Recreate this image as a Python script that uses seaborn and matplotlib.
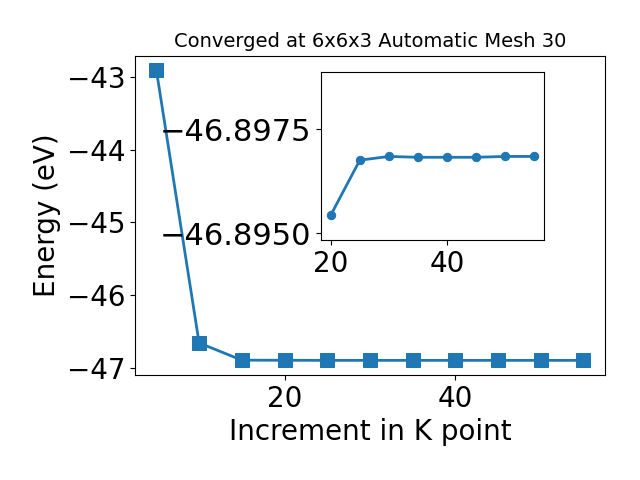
"""
K-point convergence plot: total energy vs. k-point increment,
with an inset zoomed on the converged region.
"""

import matplotlib

matplotlib.use("Agg")

import matplotlib.pyplot as plt
import seaborn as sns


# ---------------------------------------------------------------------------
# Data
# ---------------------------------------------------------------------------

kpoints = [5, 10, 15, 20, 25, 30, 35, 40, 45, 50, 55]
energy = [
    -42.909, -46.657, -46.8940, -46.89544, -46.89676, -46.89685,
    -46.89683, -46.89683, -46.89683, -46.89685, -46.89685,
]

inset_kpoints = kpoints[3:]
inset_energy = energy[3:]

TITLE = "Converged at 6x6x3 Automatic Mesh 30"
COLOR = "#1f77b4"


# ---------------------------------------------------------------------------
# Plot
# ---------------------------------------------------------------------------

fig = plt.figure(figsize=(6.4, 4.8), dpi=100)
ax = fig.add_axes([0.211, 0.219, 0.734, 0.665])

sns.lineplot(
    x=kpoints,
    y=energy,
    marker="s",
    markersize=10,
    markeredgecolor=COLOR,
    linewidth=2,
    color=COLOR,
    ax=ax,
)

ax.set_title(TITLE, fontsize=14)
ax.set_xlabel("Increment in K point", fontsize=20)
ax.set_ylabel("Energy (eV)", fontsize=20)
ax.tick_params(labelsize=20)
ax.set_xticks([20, 40])
ax.set_yticks([-43, -44, -45, -46, -47])

# inset zoomed on the converged values
axin = fig.add_axes([0.501, 0.5, 0.349, 0.349])

sns.lineplot(
    x=inset_kpoints,
    y=inset_energy,
    marker="o",
    markersize=6,
    markeredgecolor=COLOR,
    linewidth=2,
    color=COLOR,
    ax=axin,
)

axin.set_ylim(-46.89484, -46.89887)
axin.set_yticks([-46.8975, -46.8950])
axin.ticklabel_format(axis="y", useOffset=False)
axin.set_xticks([20, 40])
axin.tick_params(axis="x", labelsize=20)
axin.tick_params(axis="y", labelsize=22)

fig.savefig("out.png", dpi=100)
